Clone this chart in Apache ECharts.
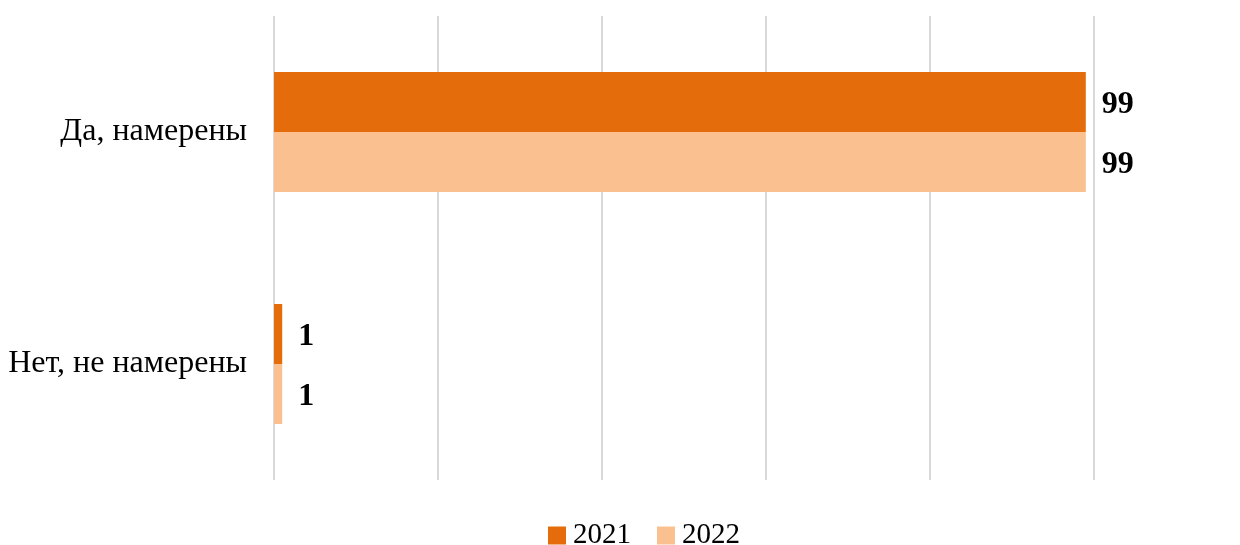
<!DOCTYPE html>
<html>
<head>
<meta charset="utf-8">
<script src="https://cdn.jsdelivr.net/npm/echarts@6/dist/echarts.min.js"></script>
<style>
  html, body { margin: 0; padding: 0; background: #ffffff; }
  #chart { width: 1240px; height: 545px; }
</style>
</head>
<body>
<div id="chart"></div>
<script>
// Answers to the survey question, share of respondents (%)
const categories = ['Да, намерены', 'Нет, не намерены'];
const seriesNames = ['2021', '2022'];
const values2021 = [99, 1];
const values2022 = [99, 1];
const colors = ['#e46c0a', '#fac090'];

const FONT = '"Liberation Serif", "Times New Roman", serif';

const chart = echarts.init(document.getElementById('chart'));

const makeSeries = (name, data, color) => ({
  name: name,
  type: 'bar',
  data: data,
  barWidth: 60,
  barGap: '0%',
  itemStyle: { color: color },
  label: {
    show: true,
    position: 'right',
    distance: 16,
    offset: [0, 3],
    fontFamily: FONT,
    fontWeight: 'bold',
    fontSize: 32,
    color: '#000000'
  }
});

chart.setOption({
  animation: false,
  grid: { left: 274, right: 146, top: 16, bottom: 65 },
  legend: {
    bottom: -10,
    left: 543,
    itemWidth: 18,
    itemHeight: 18,
    itemGap: 26,
    icon: 'rect',
    textStyle: { fontFamily: FONT, fontSize: 29, color: '#000000', padding: [0, 0, 0, 2] },
    data: seriesNames
  },
  xAxis: {
    type: 'value',
    min: 0,
    max: 100,
    interval: 20,
    axisLabel: { show: false },
    axisLine: { show: false },
    axisTick: { show: false },
    splitLine: { lineStyle: { color: '#d9d9d9', width: 2 } }
  },
  yAxis: {
    type: 'category',
    inverse: true,
    data: categories,
    axisLine: { show: false },
    axisTick: { show: false },
    axisLabel: {
      margin: 27,
      fontFamily: FONT,
      fontSize: 32,
      color: '#000000',
      padding: [6, 0, 0, 0]
    }
  },
  series: [
    makeSeries(seriesNames[0], values2021, colors[0]),
    makeSeries(seriesNames[1], values2022, colors[1])
  ]
});
</script>
</body>
</html>
